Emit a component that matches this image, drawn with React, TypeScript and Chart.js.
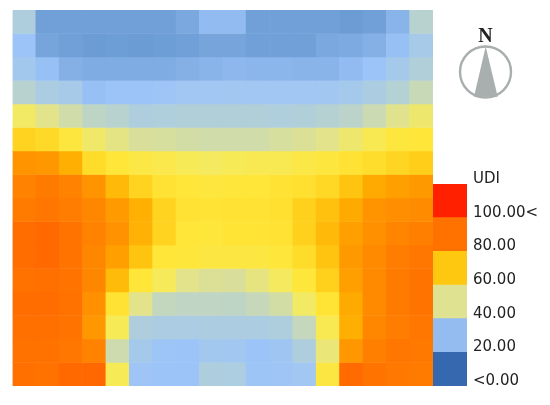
import React, { useEffect, useRef } from "react";
import { Chart, registerables } from "chart.js";

Chart.register(...registerables);

const columns = ["1","2","3","4","5","6","7","8","9","10","11","12","13","14","15","16","17","18"];

const row0 = [28,11,11,11,11,11,11,13,18,18,11,11,11,11,10,11,16,31];
const row1 = [20,12,11,10,10.5,10,10.5,11,12,12,11,11,11,13,13.5,15,19,25];
const row2 = [23,19,15,14,14,14,14,15,16,17,16.5,16.5,16,16,18,20,24,29];
const row3 = [31,27,25,19,20,20,21,22,22,22.5,22,22,22,22.5,24,27,30,36];
const row4 = [46,42,38,33,31,28,28.5,29,29,29,29,28.5,29,30.5,32,37,41.5,45];
const row5 = [57,55.5,51,45.5,42.5,40,39.5,38.5,38,38,38,39.5,40.5,42,45,48,51,52];
const row6 = [74,73,67,55,52,50,49,47.5,46.5,47.5,48,48,50,51,53,54.5,56.5,58.5];
const row7 = [78,80,78,74,64,57,53,52,51,51.5,52,53,54,56,61,68,71,72.5];
const row8 = [80,81,79.5,77,72,66.5,57,53,52.5,53,53,53.5,58,62,68,74,75.5,76];
const row9 = [83,84,81.5,78,74.5,66,57,52,51.5,52.5,52.5,53,58,64,71,75,77.5,79];
const row10 = [83,84,81.5,77,71,61,52,51.5,50.5,50.5,50.5,51.5,55,61,72.5,76.5,79.5,81];
const row11 = [82,82.5,81.5,77,63.5,52,47,42,40.5,40,43,46.5,51.5,58,71,76.5,80,81.5];
const row12 = [83,83,82,75,53,42,34.5,33.5,33.5,33,35.5,38.5,46,52.5,68,76.5,80,81.5];
const row13 = [82.5,82.5,81.5,73,47.5,28,27,26.5,27,27,27,28,35,48,67,77,79.5,81];
const row14 = [82,82,81,78,37.5,24,20.5,20,23,22.5,20,21.5,28,44,73,79,81,80.5];
const row15 = [82.5,82,84,84.5,47.5,21,20,20,28,27.5,20.5,21,22,50.5,83.5,81.5,80.5,80];
const rows = [row0,row1,row2,row3,row4,row5,row6,row7,row8,row9,row10,row11,row12,row13,row14,row15];

const rampValues = [10,20,28,37,42,47,52,60,68,75,82,100];
const rampColours = ["#6c9cd4","#9cc4f8","#aeceDE","#cbdab2","#e2e38a","#f6ea5a","#ffe638","#ffc812","#ffaa00","#ff9000","#ff7200","#ff2000"];

const legendLabels = ["<0.00","20.00","40.00","60.00","80.00","100.00<","UDI"];
const legendBand = [20];
const legendColours = ["#3568ae","#94bcf0","#dfe391","#ffc810","#ff7200","#ff2000"];

function hexToRgb(h: string) {
  const n = parseInt(h.slice(1), 16);
  return [(n >> 16) & 255, (n >> 8) & 255, n & 255];
}
function colourFor(v: number) {
  if (v <= rampValues[0]) return rampColours[0];
  for (let i = 1; i < rampValues.length; i++) {
    if (v <= rampValues[i]) {
      const t = (v - rampValues[i - 1]) / (rampValues[i] - rampValues[i - 1]);
      const a = hexToRgb(rampColours[i - 1]);
      const b = hexToRgb(rampColours[i]);
      const c = a.map((x, k) => Math.round(x + (b[k] - x) * t));
      return `rgb(${c[0]},${c[1]},${c[2]})`;
    }
  }
  return rampColours[rampColours.length - 1];
}

const compassPlugin = {
  id: "compass",
  afterDraw(chart: any) {
    const ctx = chart.ctx;
    ctx.save();
    ctx.strokeStyle = "#a9aeae";
    ctx.fillStyle = "#a9aeae";
    ctx.lineWidth = 2.4;
    ctx.beginPath();
    ctx.arc(485.5, 72, 25.5, 0, Math.PI * 2);
    ctx.stroke();
    ctx.beginPath();
    ctx.moveTo(485.7, 46.5);
    ctx.lineTo(497.7, 96.7);
    ctx.lineTo(474, 96.7);
    ctx.closePath();
    ctx.fill();
    ctx.fillStyle = "#222222";
    ctx.font = "bold 20px 'Liberation Serif'";
    ctx.textAlign = "center";
    ctx.textBaseline = "alphabetic";
    ctx.fillText("N", 485.5, 41.7);
    ctx.restore();
  },
};

export default function App() {
  const mainRef = useRef<HTMLCanvasElement>(null);
  const legendRef = useRef<HTMLCanvasElement>(null);

  useEffect(() => {
    const main = new Chart(mainRef.current!, {
      type: "bar",
      data: {
        labels: columns,
        datasets: rows.map((values, r) => ({
          label: `row ${r}`,
          data: values.map(() => [r, r + 1]),
          backgroundColor: values.map(colourFor),
          borderWidth: 0,
          barPercentage: 1,
          categoryPercentage: 1,
          grouped: false,
        })),
      } as any,
      options: {
        animation: false,
        responsive: false,
        layout: { padding: { left: 12.5, right: 117, top: 10, bottom: 19 } },
        plugins: { legend: { display: false }, tooltip: { enabled: false } },
        scales: {
          x: { display: false, offset: true },
          y: { display: false, min: 0, max: rows.length, reverse: true },
        },
      },
      plugins: [compassPlugin],
    } as any);

    const legend = new Chart(legendRef.current!, {
      type: "bar",
      data: {
        labels: ["UDI"],
        datasets: legendColours.map((c, i) => ({
          label: legendLabels[i],
          data: legendBand,
          backgroundColor: c,
          borderWidth: 0,
          barPercentage: 1,
          categoryPercentage: 1,
          stack: "legend",
        })),
      },
      options: {
        animation: false,
        responsive: false,
        layout: { padding: { left: 0, right: 0, top: 184, bottom: 19 } },
        plugins: { legend: { display: false }, tooltip: { enabled: false } },
        scales: {
          x: { display: false, stacked: true },
          y: {
            stacked: true,
            position: "right",
            min: 0,
            max: 120,
            border: { display: false },
            grid: { display: false, drawTicks: false },
            afterFit(scale: any) {
              scale.width = 83;
            },
            ticks: {
              stepSize: 20,
              padding: 6,
              labelOffset: -5,
              color: "#222222",
              font: { family: "'DejaVu Sans'", size: 15 },
              callback: (_v: any, i: number) => legendLabels[i],
            },
          },
        },
      },
    } as any);

    return () => {
      main.destroy();
      legend.destroy();
    };
  }, []);

  return (
    <div style={{ position: "absolute", left: 0, top: 0, width: 550, height: 405, background: "#fff", overflow: "hidden" }}>
      <canvas ref={mainRef} width={550} height={405} style={{ position: "absolute", left: 0, top: 0 }} />
      <canvas ref={legendRef} width={117} height={405} style={{ position: "absolute", left: 433, top: 0 }} />
    </div>
  );
}
